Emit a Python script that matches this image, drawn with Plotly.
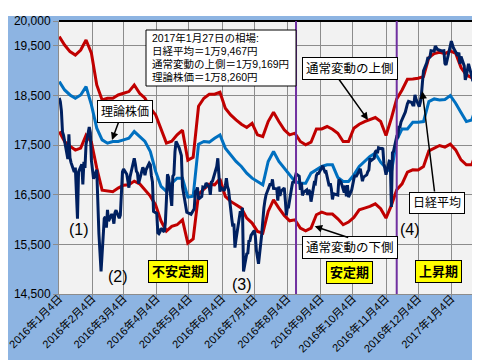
import plotly.graph_objects as go
import pandas as pd

# ---------------- data ----------------
band_dates = pd.date_range("2016-01-04", periods=78, freq="5D").strftime("%Y-%m-%d").tolist() + ["2017-01-27"]

upper_band = [19685, 19516, 19383, 19315, 19415, 19617, 19350, 18711, 18410, 18444,
              18444, 18510, 18544, 18578, 18711, 18544, 18444, 18242, 18108, 17840,
              17540, 17578, 17706, 17800, 17196, 17256, 18282, 18444, 18524, 18524,
              18564, 18242, 18108, 18007, 17920, 17854, 17940, 17706, 17672, 17974,
              18162, 17974, 17806, 17706, 17740, 17572, 17505, 17558, 17826, 17826,
              17874, 17820, 17740, 17572, 17572, 17840, 17920, 17974, 18007, 18055,
              17974, 17693, 18041, 18430, 18611, 18826, 18832, 18846, 18880, 19262,
              19343, 19369, 19343, 19396, 19349, 19061, 18913, 18860, 19169]

theoretical = [18780, 18611, 18510, 18444, 18510, 18679, 18309, 17840, 17605, 17538,
               17572, 17572, 17605, 17639, 17773, 17672, 17572, 17371, 16969, 16667,
               16566, 16733, 16834, 16834, 16452, 16472, 17518, 17572, 17560, 17639,
               17706, 17438, 17302, 17170, 17069, 16935, 16834, 16767, 16700, 17170,
               17371, 17170, 17035, 16900, 16767, 16733, 16733, 16935, 17001, 17069,
               17102, 17102, 16848, 16767, 16767, 16900, 17069, 17170, 17270, 17337,
               17156, 17035, 16955, 17605, 17826, 17826, 17961, 17961, 17974, 18377,
               18430, 18410, 18420, 18497, 18343, 18156, 17974, 18007, 18260]

lower_band = [17773, 17572, 17478, 17400, 17440, 17700, 17560, 17035, 16593, 16580,
              16560, 16633, 16693, 16700, 16774, 16720, 16600, 16472, 16290, 15969,
              15768, 15862, 15895, 15995, 15526, 15607, 16512, 16619, 16713, 16700,
              16820, 16466, 16365, 16297, 16230, 16029, 15929, 15761, 15727, 16164,
              16397, 16230, 16083, 15975, 15995, 15828, 15774, 15828, 16096, 16150,
              16110, 16110, 16015, 15895, 15949, 16043, 16196, 16230, 16264, 16317,
              16217, 16029, 16284, 16599, 16720, 16955, 17001, 17000, 17069, 17383,
              17438, 17492, 17460, 17518, 17404, 17202, 17102, 17102, 17350]

nikkei_dates = [
    "2016-01-04", "2016-01-05", "2016-01-06", "2016-01-07", "2016-01-08", "2016-01-12", "2016-01-13", "2016-01-14",
    "2016-01-15", "2016-01-18", "2016-01-19", "2016-01-20", "2016-01-21", "2016-01-22", "2016-01-25", "2016-01-26",
    "2016-01-27", "2016-01-28", "2016-01-29", "2016-02-01", "2016-02-02", "2016-02-03", "2016-02-04", "2016-02-05",
    "2016-02-08", "2016-02-09", "2016-02-10", "2016-02-12", "2016-02-15", "2016-02-16", "2016-02-17", "2016-02-18",
    "2016-02-19", "2016-02-22", "2016-02-23", "2016-02-24", "2016-02-25", "2016-02-26", "2016-02-29", "2016-03-01",
    "2016-03-02", "2016-03-03", "2016-03-04", "2016-03-07", "2016-03-08", "2016-03-09", "2016-03-10", "2016-03-11",
    "2016-03-14", "2016-03-15", "2016-03-16", "2016-03-17", "2016-03-18", "2016-03-22", "2016-03-23", "2016-03-24",
    "2016-03-25", "2016-03-28", "2016-03-29", "2016-03-30", "2016-03-31", "2016-04-01", "2016-04-04", "2016-04-05",
    "2016-04-06", "2016-04-07", "2016-04-08", "2016-04-11", "2016-04-12", "2016-04-13", "2016-04-14", "2016-04-15",
    "2016-04-18", "2016-04-19", "2016-04-20", "2016-04-21", "2016-04-22", "2016-04-25", "2016-04-26", "2016-04-27",
    "2016-04-28", "2016-05-02", "2016-05-06", "2016-05-09", "2016-05-10", "2016-05-11", "2016-05-12", "2016-05-13",
    "2016-05-16", "2016-05-17", "2016-05-18", "2016-05-19", "2016-05-20", "2016-05-23", "2016-05-24", "2016-05-25",
    "2016-05-26", "2016-05-27", "2016-05-30", "2016-05-31", "2016-06-01", "2016-06-02", "2016-06-03", "2016-06-06",
    "2016-06-07", "2016-06-08", "2016-06-09", "2016-06-10", "2016-06-13", "2016-06-14", "2016-06-15", "2016-06-16",
    "2016-06-17", "2016-06-20", "2016-06-21", "2016-06-22", "2016-06-23", "2016-06-24", "2016-06-27", "2016-06-28",
    "2016-06-29", "2016-06-30", "2016-07-01", "2016-07-04", "2016-07-05", "2016-07-06", "2016-07-07", "2016-07-08",
    "2016-07-11", "2016-07-12", "2016-07-13", "2016-07-14", "2016-07-15", "2016-07-19", "2016-07-20", "2016-07-21",
    "2016-07-22", "2016-07-25", "2016-07-26", "2016-07-27", "2016-07-28", "2016-07-29", "2016-08-01", "2016-08-02",
    "2016-08-03", "2016-08-04", "2016-08-05", "2016-08-08", "2016-08-09", "2016-08-10", "2016-08-12", "2016-08-15",
    "2016-08-16", "2016-08-17", "2016-08-18", "2016-08-19", "2016-08-22", "2016-08-23", "2016-08-24", "2016-08-25",
    "2016-08-26", "2016-08-29", "2016-08-30", "2016-08-31", "2016-09-01", "2016-09-02", "2016-09-05", "2016-09-06",
    "2016-09-07", "2016-09-08", "2016-09-09", "2016-09-12", "2016-09-13", "2016-09-14", "2016-09-15", "2016-09-16",
    "2016-09-20", "2016-09-21", "2016-09-23", "2016-09-26", "2016-09-27", "2016-09-28", "2016-09-29", "2016-09-30",
    "2016-10-03", "2016-10-04", "2016-10-05", "2016-10-06", "2016-10-07", "2016-10-11", "2016-10-12", "2016-10-13",
    "2016-10-14", "2016-10-17", "2016-10-18", "2016-10-19", "2016-10-20", "2016-10-21", "2016-10-24", "2016-10-25",
    "2016-10-26", "2016-10-27", "2016-10-28", "2016-10-31", "2016-11-01", "2016-11-02", "2016-11-04", "2016-11-07",
    "2016-11-08", "2016-11-09", "2016-11-10", "2016-11-11", "2016-11-14", "2016-11-15", "2016-11-16", "2016-11-17",
    "2016-11-18", "2016-11-21", "2016-11-22", "2016-11-24", "2016-11-25", "2016-11-28", "2016-11-29", "2016-11-30",
    "2016-12-01", "2016-12-02", "2016-12-05", "2016-12-06", "2016-12-07", "2016-12-08", "2016-12-09", "2016-12-12",
    "2016-12-13", "2016-12-14", "2016-12-15", "2016-12-16", "2016-12-19", "2016-12-20", "2016-12-21", "2016-12-22",
    "2016-12-26", "2016-12-27", "2016-12-28", "2016-12-29", "2016-12-30", "2017-01-04", "2017-01-05", "2017-01-06",
    "2017-01-10", "2017-01-11", "2017-01-12", "2017-01-13", "2017-01-16", "2017-01-17", "2017-01-18", "2017-01-19",
    "2017-01-20", "2017-01-23", "2017-01-24", "2017-01-25", "2017-01-26", "2017-01-27"]

nikkei_avg = [
    18451, 18374, 18191, 17767, 17698, 17219, 17716, 17241,
    17147, 16956, 17048, 16416, 16017, 16959, 17111, 16709,
    17164, 17041, 17518, 17865, 17751, 17191, 17045, 16820,
    17004, 16085, 15713, 14953, 16023, 16054, 15836, 16197,
    15967, 16111, 16052, 15916, 16140, 16188, 16027, 16086,
    16747, 16960, 17015, 16911, 16783, 16642, 16852, 16939,
    17234, 17117, 16974, 16936, 16725, 17049, 17001, 16892,
    17003, 17134, 17104, 16879, 16759, 16164, 16123, 15733,
    15715, 15750, 15822, 15751, 15929, 16381, 16911, 16848,
    16276, 16874, 16907, 17364, 17572, 17439, 17353, 17290,
    16666, 16147, 16107, 16216, 16565, 16579, 16646, 16412,
    16466, 16653, 16645, 16647, 16736, 16655, 16499, 16757,
    16772, 16835, 17068, 17235, 16956, 16563, 16642, 16580,
    16675, 16831, 16668, 16601, 16019, 15859, 15920, 15434,
    15600, 15965, 16169, 16066, 16238, 14952, 15309, 15323,
    15567, 15576, 15682, 15776, 15669, 15379, 15276, 15107,
    15709, 16096, 16231, 16386, 16498, 16723, 16682, 16810,
    16627, 16620, 16383, 16665, 16477, 16569, 16636, 16391,
    16083, 16255, 16254, 16651, 16765, 16735, 16920, 16870,
    16597, 16746, 16486, 16546, 16598, 16497, 16597, 16556,
    16361, 16737, 16725, 16887, 16927, 16926, 17038, 17082,
    17012, 16959, 16966, 16673, 16729, 16614, 16405, 16519,
    16492, 16808, 16754, 16545, 16684, 16465, 16694, 16450,
    16599, 16736, 16819, 16899, 16860, 17025, 16840, 16774,
    16856, 16900, 16964, 16999, 17235, 17185, 17234, 17365,
    17392, 17336, 17446, 17425, 17442, 17135, 16905, 17177,
    17171, 16252, 17344, 17375, 17673, 17668, 17862, 17863,
    17967, 18106, 18163, 18333, 18381, 18357, 18307, 18308,
    18513, 18426, 18275, 18361, 18497, 18765, 18996, 19155,
    19251, 19254, 19274, 19401, 19392, 19495, 19444, 19428,
    19397, 19403, 19402, 19145, 19114, 19594, 19521, 19454,
    19301, 19365, 19135, 19287, 19095, 18814, 18894, 19072,
    19138, 18891, 18788, 19058, 19402, 19467]

tick_dates = ["2016-01-04", "2016-02-04", "2016-03-04", "2016-04-04", "2016-05-04", "2016-06-04",
              "2016-07-04", "2016-08-04", "2016-09-04", "2016-10-04", "2016-11-04", "2016-12-04",
              "2017-01-04"]
tick_labels = ["2016年1月4日", "2016年2月4日", "2016年3月4日", "2016年4月4日", "2016年5月4日",
               "2016年6月4日", "2016年7月4日", "2016年8月4日", "2016年9月4日", "2016年10月4日",
               "2016年11月4日", "2016年12月4日", "2017年1月4日"]
y_ticks = [14500, 15500, 16500, 17500, 18500, 19500, 20000]
y_tick_labels = ["14,500", "15,500", "16,500", "17,500", "18,500", "19,500", "20,000"]
phase_lines = ["2016-08-12", "2016-11-14"]
summary_lines = ["2017年1月27日の相場:", "日経平均＝1万9,467円",
                 "通常変動の上側＝1万9,169円", "理論株価＝1万8,260円"]

# ---------------- figure ----------------
W, H = 480, 360
ML, MR, MT, MB = 51, 12, 13, 74
PW, PH = W - ML - MR, H - MT - MB


def px(x):
    return (x - ML) / PW


def py(y):
    return (H - MB - y) / PH


RED = "#C00000"
NAVY = "#002060"
BLUE = "#0070C0"
FONT = "Liberation Sans, Noto Sans CJK JP, sans-serif"

fig = go.Figure()
fig.add_trace(go.Scatter(x=band_dates, y=upper_band, mode="lines", line=dict(color=RED, width=3), name="通常変動の上側"))
fig.add_trace(go.Scatter(x=band_dates, y=lower_band, mode="lines", line=dict(color=RED, width=3), name="通常変動の下側"))
fig.add_trace(go.Scatter(x=band_dates, y=theoretical, mode="lines", line=dict(color=BLUE, width=3), name="理論株価"))
fig.add_trace(go.Scatter(x=nikkei_dates, y=nikkei_avg, mode="lines", line=dict(color=NAVY, width=3), name="日経平均"))

shapes = []
shapes.append(dict(type="rect", xref="paper", yref="paper", x0=-0.2, x1=1.1, y0=py(8), y1=1.2,
                   fillcolor="white", line=dict(width=0)))
shapes.append(dict(type="line", xref="paper", yref="paper", x0=0, x1=1, y0=1, y1=1,
                   line=dict(color="black", width=2)))
for d in phase_lines:
    shapes.append(dict(type="line", xref="x", yref="paper", x0=d, x1=d, y0=0, y1=1,
                       line=dict(color="#7030A0", width=2)))
# summary box frame
shapes.append(dict(type="rect", xref="paper", yref="paper", x0=px(138), x1=px(288), y0=py(78), y1=py(22),
                   fillcolor="white", line=dict(color="black", width=1), layer="above"))

ann = []
for i, line in enumerate(summary_lines):
    ann.append(dict(xref="paper", yref="paper", x=px(142), y=py(30 + 13 * i), xanchor="left", yanchor="middle",
                    text=line, showarrow=False, font=dict(size=10.5, color="black", family=FONT)))


def label_box(text, cx, cy, size=12, bg="white", bold=False, pad=3):
    t = f"<b>{text}</b>" if bold else text
    return dict(xref="paper", yref="paper", x=px(cx), y=py(cy), xanchor="center", yanchor="middle",
                text=t, showarrow=False, font=dict(size=size, color="black", family=FONT),
                bgcolor=bg, bordercolor="black", borderwidth=1, borderpad=pad)


ann.append(label_box("理論株価", 116.5, 103))
ann.append(label_box("通常変動の上側", 341.5, 60, size=12.5))
ann.append(label_box("通常変動の下側", 341.5, 240, size=12.5))
ann.append(label_box("日経平均", 428.5, 195, pad=3))
ann.append(label_box("不安定期", 170, 263, size=13, bg="#FFFF00", bold=True, pad=3))
ann.append(label_box("安定期", 341.5, 264, size=13, bg="#FFFF00", bold=True, pad=3))
ann.append(label_box("上昇期", 430, 263, size=13, bg="#FFFF00", bold=True, pad=3))


def arrow(hx, hy, tx, ty):
    return dict(xref="paper", yref="paper", x=px(hx), y=py(hy), ax=tx - hx, ay=ty - hy,
                axref="pixel", ayref="pixel", text="", showarrow=True,
                arrowhead=2, arrowsize=1, arrowwidth=1.5, arrowcolor="black", standoff=0)


ann.append(arrow(104, 132, 111, 113))
ann.append(arrow(360, 112, 330, 70))
ann.append(arrow(306.7, 218.3, 341.7, 230))
ann.append(arrow(414.3, 83.3, 426.7, 185))

for txt, cx, cy in [("(1)", 71, 222), ("(2)", 110, 268), ("(3)", 233.5, 276), ("(4)", 402, 222)]:
    ann.append(dict(xref="paper", yref="paper", x=px(cx), y=py(cy), xanchor="center", yanchor="middle",
                    text=txt, showarrow=False, font=dict(size=16, color="black", family=FONT)))

fig.update_layout(
    width=W, height=H,
    margin=dict(l=ML, r=MR, t=MT, b=MB, autoexpand=False),
    paper_bgcolor="#8DB4E2",
    plot_bgcolor="#F2F2F2",
    showlegend=False,
    font=dict(family=FONT, color="black"),
    shapes=shapes,
    annotations=ann,
    xaxis=dict(type="date", range=["2016-01-03 18:00", "2017-01-27"], tickmode="array",
               tickvals=tick_dates, ticktext=tick_labels, tickangle=-45,
               tickfont=dict(size=11, color="black", family=FONT), ticklabelstandoff=-12,
               ticklabeloverflow="allow",
               showgrid=True, gridcolor="#8C8C8C", gridwidth=1,
               showline=True, linecolor="#8C8C8C", linewidth=1,
               ticks="outside", ticklen=5, tickcolor="#8C8C8C", zeroline=False, automargin=False),
    yaxis=dict(range=[14500, 20000], tickmode="array", tickvals=y_ticks, ticktext=y_tick_labels,
               tickfont=dict(size=12, color="black", family=FONT),
               showgrid=True, gridcolor="#8C8C8C", gridwidth=1,
               showline=True, linecolor="#8C8C8C", linewidth=1,
               ticks="outside", ticklen=5, tickcolor="#8C8C8C", zeroline=False, automargin=False),
)

fig.write_html("out.html")
